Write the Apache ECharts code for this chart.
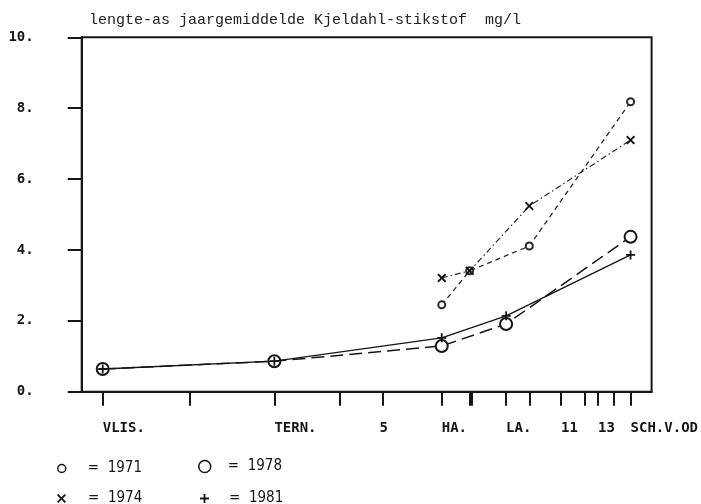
<!DOCTYPE html>
<html>
<head>
<meta charset="utf-8">
<script src="https://cdn.jsdelivr.net/npm/echarts@6/dist/echarts.min.js"></script>
<style>
  html, body { margin: 0; padding: 0; background: #fff; }
  #chart { width: 701px; height: 504px; }
</style>
</head>
<body>
<div id="chart"></div>
<script>
// Distance along the estuary (km) of each measuring station, numbered 1..15
const stationKm = [0, 10.1, 20.0, 27.6, 32.6, 39.5, 42.75, 43.05, 47.0, 49.7, 53.4, 56.2, 57.7, 59.5, 61.5];

// Stations that carry a name or number under the axis
const labelStations = [1, 3, 5, 6, 9, 11, 13, 15];
const labelTexts = ['VLIS.', 'TERN.', '5', 'HA.', 'LA.', '11', '13', 'SCH.V.OD'];

// Yearly mean Kjeldahl nitrogen (mg/l) per station
const years = ['1971', '1974', '1978', '1981'];
const stations1971 = [6, 7, 10, 15];
const values1971 = [2.45, 3.41, 4.11, 8.18];
const stations1974 = [6, 7, 10, 15];
const values1974 = [3.21, 3.41, 5.24, 7.10];
const stations1978 = [1, 3, 6, 9, 15];
const values1978 = [0.64, 0.86, 1.29, 1.91, 4.37];
const stations1981 = [1, 3, 6, 9, 15];
const values1981 = [0.64, 0.86, 1.52, 2.14, 3.86];

// Y-axis tick values
const yTicks = [0, 2, 4, 6, 8, 10];

const INK = '#151515';
const CROSS = 'path://M0,1.5L1.5,0L5,3.5L8.5,0L10,1.5L6.5,5L10,8.5L8.5,10L5,6.5L1.5,10L0,8.5L3.5,5Z';
const PLUS = 'path://M4,0H6V4H10V6H6V10H4V6H0V4H4Z';

const toPairs = (st, vals) => st.map((s, i) => [stationKm[s - 1], vals[i]]);
const labelKm = labelStations.map(s => stationKm[s - 1]);
const labelFor = v => {
  const i = labelKm.findIndex(k => Math.abs(k - v) < 1e-6);
  if (i < 0) return '';
  // single-character numbers sit centred on their tick
  return labelTexts[i].length === 1 ? '{c|' + labelTexts[i] + '}' : labelTexts[i];
};

const monoBold = "'DejaVu Sans Mono', 'Liberation Mono', monospace";
const legendFont = "'Liberation Sans Narrow', 'DejaVu Sans Condensed', Roboto, sans-serif";

const chart = echarts.init(document.getElementById('chart'), null, { renderer: 'canvas' });

function legendBox(name, icon, size, left, top, style, pad) {
  return {
    data: [name],
    icon: icon,
    left: left, top: top,
    itemWidth: size, itemHeight: size,
    itemStyle: style,
    padding: 0,
    selectedMode: false,
    formatter: '= ' + ' {name}',
    textStyle: { fontFamily: legendFont, fontSize: 15, color: INK, padding: [0, 0, 0, pad] }
  };
}

const hollow = { color: '#fff', borderColor: INK, borderWidth: 1.5 };
const solid = { color: INK, borderColor: INK, borderWidth: 0 };

chart.setOption({
  animation: false,
  backgroundColor: '#fff',
  title: {
    text: 'lengte-as jaargemiddelde Kjeldahl-stikstof  mg/l',
    left: 84, top: 8,
    textStyle: { fontFamily: "'Liberation Mono', 'DejaVu Sans Mono', monospace", fontSize: 15, fontWeight: 'normal', color: '#222' }
  },
  grid: {
    left: 81.7, right: 48.3, top: 37.3, bottom: 112.3,
    show: true, borderColor: INK, borderWidth: 2, backgroundColor: 'transparent'
  },
  legend: [
    legendBox('1971', 'circle', 8, 57, 461, hollow, 17),
    legendBox('1978', 'circle', 12, 198, 459, hollow, 12),
    legendBox('1974', CROSS, 9, 57, 491, solid, 17),
    legendBox('1981', PLUS, 9, 200, 491, solid, 15)
  ],
  xAxis: {
    type: 'value',
    min: -2.45, max: 63.95,
    axisLine: { show: true, onZero: false, lineStyle: { color: INK, width: 2 } },
    axisTick: {
      show: true, inside: false, length: 14,
      customValues: stationKm,
      lineStyle: { color: INK, width: 2 }
    },
    axisLabel: {
      show: true,
      customValues: labelKm,
      formatter: v => labelFor(v),
      align: 'left',
      margin: 30,
      hideOverlap: false,
      fontFamily: monoBold, fontWeight: 'bold', fontSize: 14, color: INK,
      rich: { c: { fontFamily: monoBold, fontWeight: 'bold', fontSize: 14, color: INK, padding: [0, 0, 0, -3] } }
    },
    splitLine: { show: false }
  },
  yAxis: {
    type: 'value',
    min: 0, max: 10, interval: 2,
    axisLine: { show: true, onZero: false, lineStyle: { color: INK, width: 2 } },
    axisTick: { show: true, inside: false, length: 14, customValues: yTicks, lineStyle: { color: INK, width: 2 } },
    axisLabel: {
      formatter: v => v + '.',
      margin: 48,
      padding: [0, 0, 6, 0],
      fontFamily: monoBold, fontWeight: 'bold', fontSize: 14, color: INK
    },
    splitLine: { show: false }
  },
  series: [
    {
      name: years[0], type: 'line', data: toPairs(stations1971, values1971),
      symbol: 'emptyCircle', symbolSize: 7,
      itemStyle: { color: '#2a2a2a', borderColor: '#2a2a2a', borderWidth: 1.3 },
      lineStyle: { color: '#2a2a2a', width: 1.3, type: [5, 4] },
      z: 3
    },
    {
      name: years[1], type: 'line', data: toPairs(stations1974, values1974),
      symbol: CROSS, symbolSize: 9,
      itemStyle: { color: INK, borderWidth: 0 },
      lineStyle: { color: '#2a2a2a', width: 1.2, type: [6, 3, 1.5, 3] },
      z: 4
    },
    {
      name: years[2], type: 'line', data: toPairs(stations1978, values1978),
      symbol: 'emptyCircle', symbolSize: 12,
      itemStyle: { color: INK, borderColor: INK, borderWidth: 1.5 },
      lineStyle: { color: INK, width: 1.5, type: [13, 6] },
      z: 5
    },
    {
      name: years[3], type: 'line', data: toPairs(stations1981, values1981),
      symbol: PLUS, symbolSize: 9,
      itemStyle: { color: INK, borderWidth: 0 },
      lineStyle: { color: INK, width: 1.3, type: 'solid' },
      z: 6
    }
  ]
});
</script>
</body>
</html>
